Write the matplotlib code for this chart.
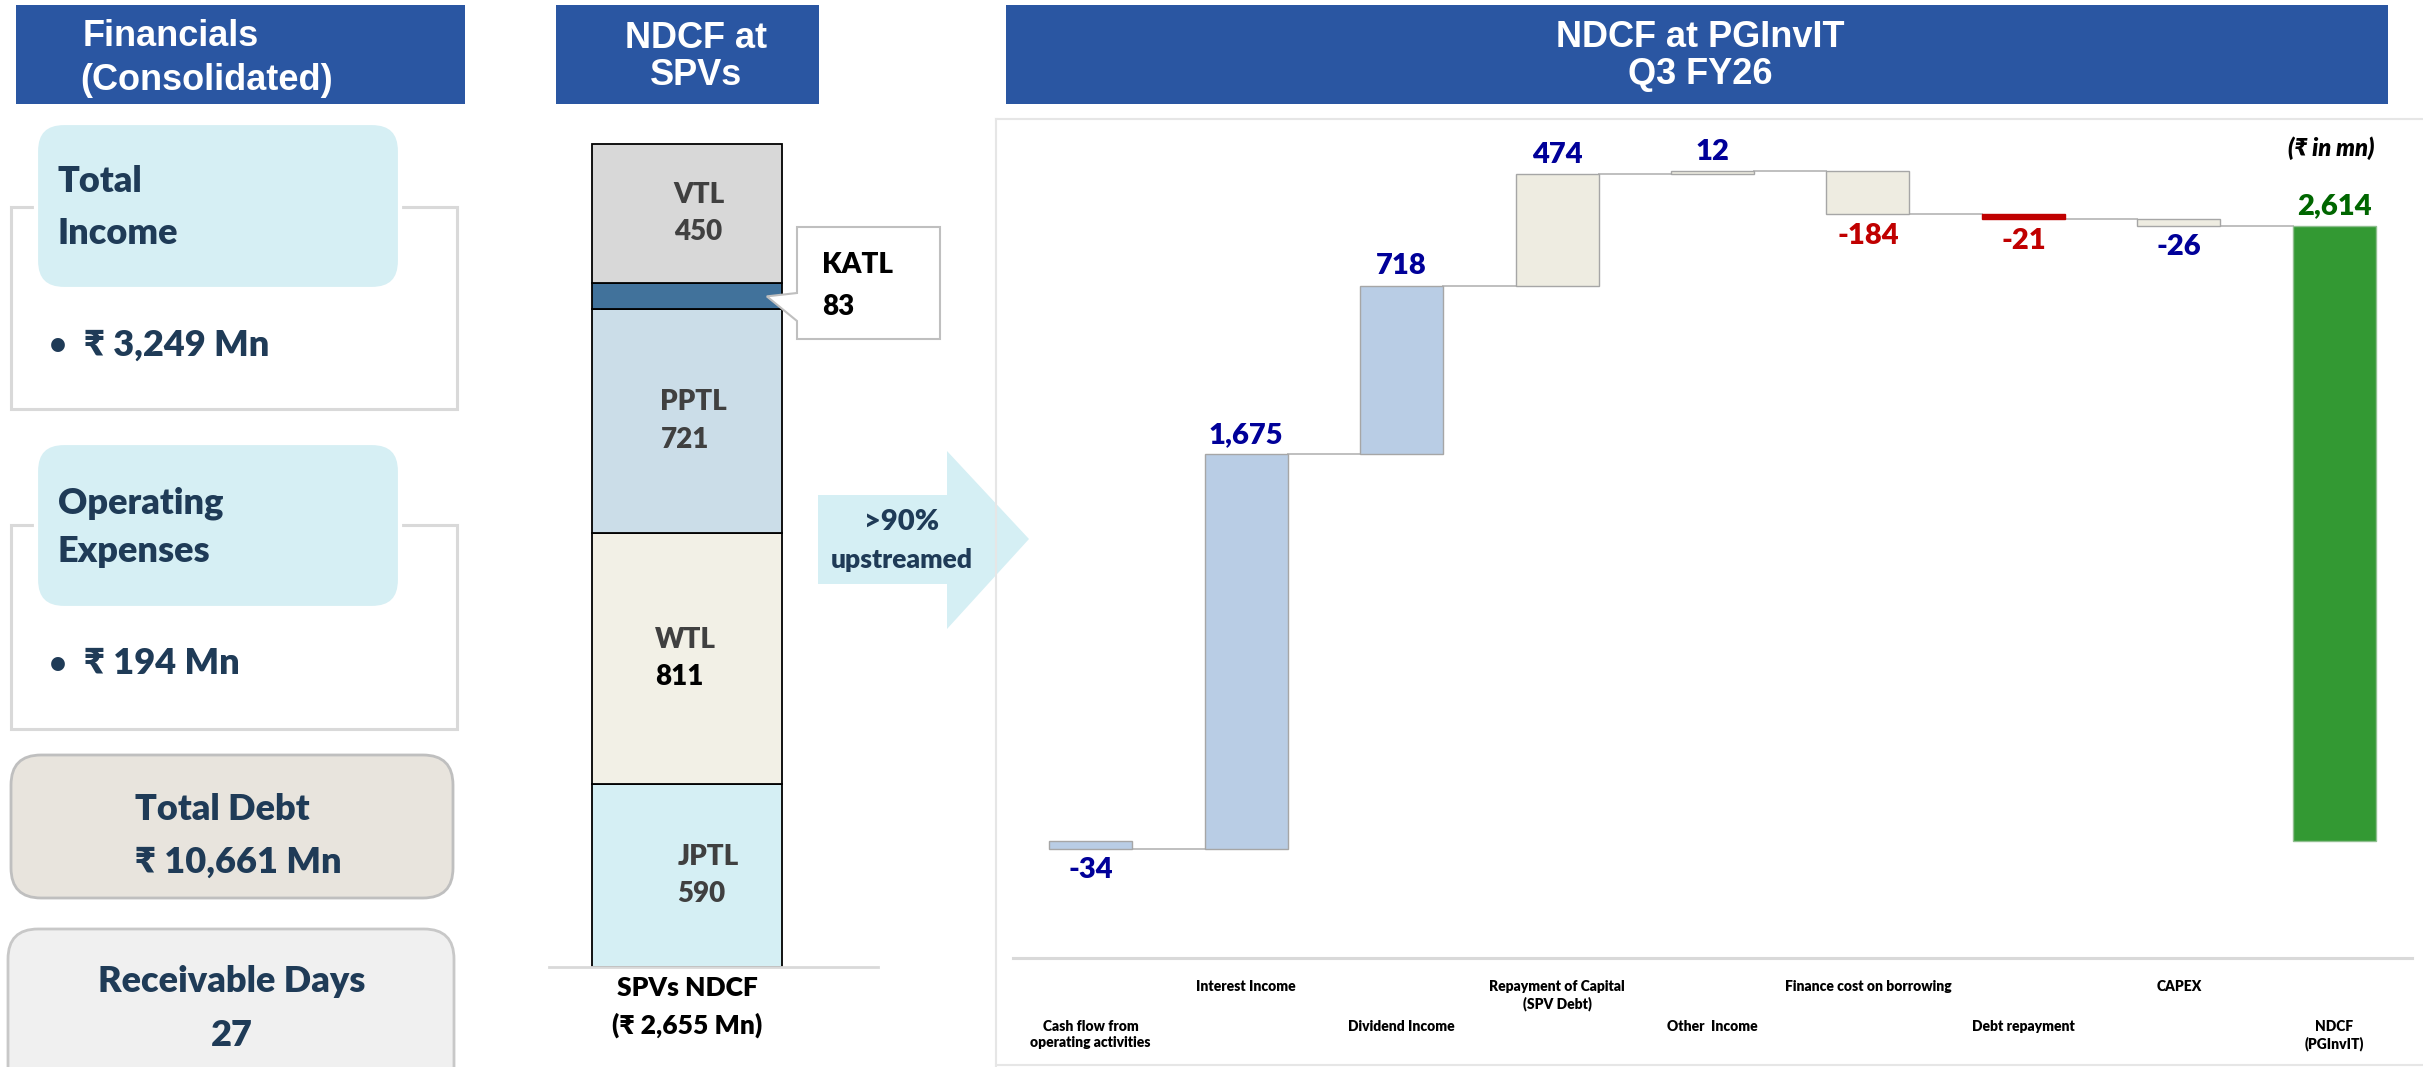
import matplotlib
matplotlib.use("Agg")

import matplotlib.pyplot as plt
from matplotlib import font_manager as fm
from matplotlib.patches import Rectangle, FancyBboxPatch, Polygon
import numpy as np

# ---- data ----
spv_names = ["JPTL", "WTL", "PPTL", "KATL", "VTL"]   # bottom -> top
spv_ndcf = [590, 811, 721, 83, 450]

wf_categories = ["Cash flow from\noperating activities", "Interest Income",
                 "Dividend Income", "Repayment of Capital\n(SPV Debt)",
                 "Other  Income", "Finance cost on borrowing",
                 "Debt repayment", "CAPEX", "NDCF\n(PGInvIT)"]
wf_steps = [-34, 1675, 718, 474, 12, -184, -21, -26]

total_income = 3249
operating_expenses = 194
total_debt = 10661
receivable_days = 27

# ---- styles ----
spv_colors = ["#d5eff4", "#f2f0e6", "#cbdde8", "#41729b", "#d8d8d8"]
spv_label_x = [-0.05, -0.17, -0.14, 0.0, -0.07]
spv_value_colors = ["#404040", "black", "#404040", "black", "#404040"]

wf_colors = ["#b9cde5", "#b9cde5", "#b9cde5", "#eeece1", "#eeece1",
             "#eeece1", "#c00000", "#eeece1", "#339933"]
wf_edges = ["#a6a6a6"] * 6 + ["#c00000", "#a6a6a6", "#8fbf8f"]
wf_label_colors = ["#000099"] * 5 + ["#c00000", "#c00000", "#000099", "#006600"]

HEADER = "#2a56a2"
NAVY = "#1f3b57"
BOLD = "heavy"

names = {f.name for f in fm.fontManager.ttflist}
def pick(*cands):
    return [c for c in cands if c in names] + ["DejaVu Sans"]
CAL = pick("Lato", "Open Sans")
ARIAL = pick("Liberation Sans", "Arial")

W, H = 2423, 1067
fig = plt.figure(figsize=(W / 100, H / 100), dpi=100)

# overlay axes in pixel coordinates (y down)
ov = fig.add_axes([0, 0, 1, 1])
ov.set_xlim(0, W)
ov.set_ylim(H, 0)
ov.axis("off")


def px_axes(x0, y0, x1, y1):
    return fig.add_axes([x0 / W, 1 - y1 / H, (x1 - x0) / W, (y1 - y0) / H])


def rbox(x0, y0, x1, y1, r, fc, ec="none", lw=0, z=1):
    ov.add_patch(FancyBboxPatch((x0 + r, y0 + r), x1 - x0 - 2 * r, y1 - y0 - 2 * r,
                                boxstyle=f"round,pad={r}", fc=fc, ec=ec, lw=lw, zorder=z))


def navy_text(x, y, s, size=26, ha="left", **kw):
    ov.text(x, y, s, color=NAVY, fontsize=size, fontweight=BOLD, family=CAL,
            ha=ha, va="center", **kw)


# headers
for x0, x1 in [(16, 465), (556, 819), (1006, 2388)]:
    ov.add_patch(Rectangle((x0, 5), x1 - x0, 99, fc=HEADER, ec="none"))
ov.text(83, 36, "Financials", color="white", fontsize=26,
        fontweight="bold", family=ARIAL, ha="left", va="center")
ov.text(80, 80, "(Consolidated)", color="white", fontsize=26,
        fontweight="bold", family=ARIAL, ha="left", va="center")
ov.text(696, 57, "NDCF at\nSPVs", color="white", fontsize=26,
        fontweight="bold", family=ARIAL, ha="center", va="center", linespacing=1.1)
ov.text(1700, 56, "NDCF at PGInvIT\nQ3 FY26", color="white", fontsize=26,
        fontweight="bold", family=ARIAL, ha="center", va="center", linespacing=1.1)

# left panel: income / opex cards
for (top, bot, itop, ibot, title, val, ty, vy) in [
        (207, 409, 123, 289, ("Total", "Income"), f"₹ {total_income:,} Mn", (181, 233), 345),
        (525, 729, 443, 608, ("Operating", "Expenses"), f"₹ {operating_expenses:,} Mn", (503, 552), 664)]:
    ov.add_patch(Rectangle((11, top), 446, bot - top, fc="none", ec="#d9d9d9", lw=2.2, zorder=1))
    rbox(36, itop, 400, ibot, 28, "#d6eff4", ec="white", lw=3, z=2)
    navy_text(58, ty[0], title[0], zorder=3)
    navy_text(58, ty[1], title[1], zorder=3)
    navy_text(50, vy, "•", size=20)
    navy_text(84, vy, val)

rbox(11, 755, 453, 898, 30, "#e8e4dd", ec="#bfbfbf", lw=2)
navy_text(135, 810, "Total Debt")
navy_text(135, 862, f"₹ {total_debt:,} Mn")

rbox(8, 929, 454, 1100, 30, "#f0f0f0", ec="#c8c8c8", lw=2)
navy_text(232, 982, "Receivable Days", ha="center")
navy_text(232, 1035, f"{receivable_days}", ha="center")

# upstream arrow
ov.add_patch(Polygon([(818, 495), (947, 495), (947, 451), (1029, 539),
                      (947, 629), (947, 584), (818, 584)],
                     closed=True, fc="#d5eff4", ec="none", zorder=1))
navy_text(902, 522, ">90%", size=21, zorder=3)
ov.texts[-1].set_ha("center")
navy_text(902, 560, "upstreamed", size=19, zorder=3)
ov.texts[-1].set_ha("center")

# right panel frame
ov.plot([996, 996], [119, 1067], color="#e6e6e6", lw=1.5, zorder=2)
ov.plot([996, W], [119, 119], color="#e6e6e6", lw=1.5, zorder=2)
ov.plot([996, W], [1065, 1065], color="#e6e6e6", lw=1.5, zorder=2)
ov.text(2374, 148, "(₹ in mn)", color="black", fontsize=17, fontweight=BOLD,
        style="italic", family=CAL, ha="right", va="center")

# ---- SPV stacked bar ----
ax_bar = px_axes(549, 144, 878, 967)
ax_bar.patch.set_alpha(0)
spv_total = sum(spv_ndcf)
ax_bar.set_xlim(-0.726, 1.005)
ax_bar.set_ylim(0, spv_total)
bottoms = np.concatenate([[0], np.cumsum(spv_ndcf)[:-1]])
bars = ax_bar.bar([0] * len(spv_ndcf), spv_ndcf, bottom=bottoms, width=1.0,
                  color=spv_colors, edgecolor="black", linewidth=1.3)
for b in bars:
    b.set_clip_on(False)
for s in ["top", "left", "right"]:
    ax_bar.spines[s].set_visible(False)
ax_bar.spines["bottom"].set_color("#d9d9d9")
ax_bar.spines["bottom"].set_linewidth(2)
ax_bar.set_xticks([])
ax_bar.set_yticks([])

for i, (name, val) in enumerate(zip(spv_names, spv_ndcf)):
    mid = bottoms[i] + val / 2
    if name == "KATL":
        tip = ov.transData.inverted().transform(ax_bar.transData.transform((0.42, mid)))
        ax_bar.add_patch(Polygon([(797, 227), (940, 227), (940, 339), (797, 339),
                                  (797, 321), tuple(tip), (797, 293)],
                                 closed=True, fc="white", ec="#bfbfbf", lw=1.5,
                                 transform=ov.transData, clip_on=False, zorder=5))
        ax_bar.text(822, 265, name, transform=ov.transData, color="black", fontsize=20,
                    fontweight=BOLD, family=CAL, ha="left", va="center", zorder=6)
        ax_bar.text(822, 307, f"{val}", transform=ov.transData, color="black", fontsize=20,
                    fontweight=BOLD, family=CAL, ha="left", va="center", zorder=6)
        continue
    ax_bar.annotate(name, (spv_label_x[i], mid), xytext=(0, 13.5), textcoords="offset points",
                    color="#404040", fontsize=20, fontweight=BOLD, family=CAL,
                    ha="left", va="center")
    ax_bar.annotate(f"{val}", (spv_label_x[i], mid), xytext=(0, -13.5), textcoords="offset points",
                    color=spv_value_colors[i], fontsize=20, fontweight=BOLD, family=CAL,
                    ha="left", va="center")

ov.text(687, 988, "SPVs NDCF", color="black", fontsize=19, fontweight=BOLD,
        family=CAL, ha="center", va="center")
ov.text(687, 1025, f"(₹ {spv_total:,} Mn)", color="black", fontsize=19, fontweight=BOLD,
        family=CAL, ha="center", va="center")

# ---- NDCF waterfall ----
ax_wf = px_axes(1013, 130, 2412, 958)
ax_wf.patch.set_alpha(0)
ax_wf.set_xlim(-0.5, len(wf_categories) - 0.5)
ax_wf.set_ylim(-499, 3020)

cum = np.concatenate([[0], np.cumsum(wf_steps)])
ndcf_total = cum[-1]
wf_values = list(wf_steps) + [ndcf_total]
wf_bottoms = [min(cum[i], cum[i + 1]) for i in range(len(wf_steps))] + [0]
wf_heights = [abs(s) for s in wf_steps] + [ndcf_total]
x = np.arange(len(wf_categories))
bw = 0.534
ax_wf.bar(x, wf_heights, bottom=wf_bottoms, width=bw, color=wf_colors,
          edgecolor=wf_edges, linewidth=1.0, zorder=2)

for i in range(len(wf_steps)):
    ax_wf.plot([i + bw / 2, i + 1 - bw / 2], [cum[i + 1]] * 2, color="#bfbfbf", lw=1.4, zorder=1)

for i, v in enumerate(wf_values):
    if v >= 0:
        y, dy = wf_bottoms[i] + wf_heights[i], 14.0
    else:
        y, dy = wf_bottoms[i], -15.5
    ax_wf.annotate(f"{v:,}", (i, y), xytext=(0, dy), textcoords="offset points",
                   color=wf_label_colors[i], fontsize=21, fontweight=BOLD, family=CAL,
                   ha="center", va="center")

for i, lab in enumerate(wf_categories):
    off = -15.5 if i % 2 == 1 else -44.5
    ax_wf.annotate(lab, (i, 0), xycoords=("data", "axes fraction"), xytext=(0, off),
                   textcoords="offset points", color="black", fontsize=10,
                   fontweight=BOLD, family=CAL, ha="center", va="top", linespacing=1.3)

for s in ["top", "left", "right"]:
    ax_wf.spines[s].set_visible(False)
ax_wf.spines["bottom"].set_color("#d9d9d9")
ax_wf.spines["bottom"].set_linewidth(2.2)
ax_wf.set_xticks([])
ax_wf.set_yticks([])

fig.savefig("out.png", dpi=100)
plt.close(fig)
